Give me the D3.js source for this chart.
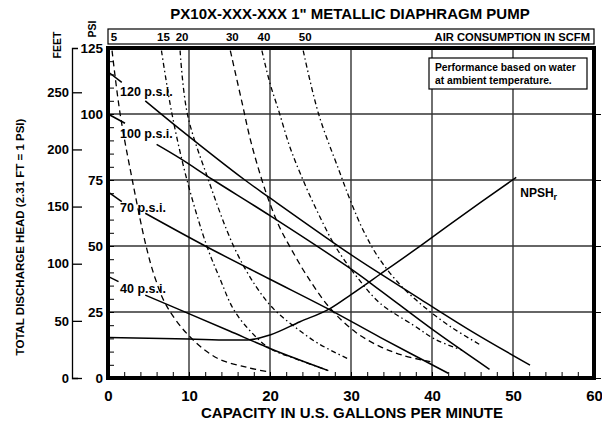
<!DOCTYPE html>
<html>
<head>
<meta charset="utf-8">
<script src="https://cdn.jsdelivr.net/npm/d3@7"></script>
<style>
  body { margin: 0; background: #fff; }
  text { font-family: "Liberation Sans", Arial, sans-serif; font-weight: bold; fill: #000; }
</style>
</head>
<body>
<script>
// ---- values ----
var capacityTicks = [0, 10, 20, 30, 40, 50, 60];
var psiTicks = [0, 25, 50, 75, 100, 125];
var feetTicks = [0, 50, 100, 150, 200, 250];
var gridX = [10, 20, 30, 40, 50];
var gridY = [25, 50, 75, 100];

// head / capacity curves [gpm, psi]; lead = short piece before the label
var psi120Lead = [[0, 116], [1.7, 112]];
var psi120 = [[4.6, 105], [8.9, 94.2], [16.9, 75], [20, 68.2], [29.9, 46.9], [33.6, 39.5], [38.6, 29.8], [45, 17.5], [52.1, 4.9]];
var psi100Lead = [[0, 100], [2.1, 96.5]];
var psi100 = [[6, 88.5], [8.9, 83.2], [13, 75], [20, 61.5], [29.9, 41.5], [33.6, 33.2], [40, 18.5], [47.1, 3.3]];
var psi70Lead = [[0, 70.5], [1.7, 66.8]];
var psi70 = [[4.6, 62.4], [12, 50], [20, 37.4], [27.4, 25.8], [33.6, 15.4], [42, 1.8]];
var psi40Lead = [[0, 38.5], [1.3, 36.5]];
var psi40 = [[4.6, 31.4], [9.9, 24.5], [15, 17.8], [20, 11.2], [23.5, 7], [27.2, 2.8]];
var psiNames = ["120 p.s.i.", "100 p.s.i.", "70 p.s.i.", "40 p.s.i."];

// air consumption curves (SCFM)
var airNames = ["5", "15", "20", "30", "40", "50"];
var air5 = [[0.5, 124], [1.5, 100], [3, 75], [4.7, 50], [5.8, 38], [7.2, 27.5], [9.9, 16.3], [13.5, 7.5], [17.2, 4], [20, 2.2]];
var air15 = [[6.6, 124], [7.9, 100], [9.75, 75], [12.2, 50], [13.9, 37], [15.5, 26], [17.5, 18], [20, 11.2], [23.5, 6.9], [27.2, 2.8]];
var air20 = [[8.9, 124], [9.8, 100], [12.4, 75], [15.5, 50], [18.2, 35], [20.5, 26], [23, 19.5], [26, 13], [29.7, 7.2]];
var air30 = [[15.1, 124], [16.5, 105], [17.6, 90], [19, 75], [20, 66], [21.2, 57], [22.5, 49.5], [24.5, 39], [27.4, 26.5], [30.5, 17.5], [33.6, 11.9], [36.5, 8.5], [39.8, 6.2]];
var air40 = [[19, 124], [20, 111.6], [21.1, 101], [22.4, 88], [23.8, 77], [25.7, 64], [28.1, 49.7], [30.8, 38], [33.6, 28.3], [37.7, 20], [40.5, 14.5], [43.7, 10.6]];
var air50 = [[24.1, 124], [26, 100], [28.5, 78.8], [29.9, 67.4], [31.5, 56], [33.4, 45.6], [36.1, 35.2], [39, 27], [42.5, 19], [46, 12.5]];

var npsh = [[0, 15.3], [5, 15.1], [10, 14.8], [15, 14.4], [17.2, 14.4], [20, 16.3], [23.7, 21.3], [27.4, 26.3], [30, 31.6], [33.6, 39.3], [38, 48.8], [42.3, 58.4], [46, 66.5], [50.4, 76]];

// ---- drawing ----
var svg = d3.select("body").append("svg").attr("width", 602).attr("height", 426);

var x = d3.scaleLinear().domain([0, 60]).range([108, 594]);
var y = d3.scaleLinear().domain([0, 125]).range([378, 48]);
var yFeet = d3.scaleLinear().domain([0, 125 * 2.31]).range([378, 48]);

var line = d3.line().x(function(d) { return x(d[0]); }).y(function(d) { return y(d[1]); })
    .curve(d3.curveCatmullRom.alpha(0.5));

// title
svg.append("text").attr("x", 350).attr("y", 19).attr("text-anchor", "middle")
    .attr("font-size", 15).text("PX10X-XXX-XXX 1\" METALLIC DIAPHRAGM PUMP");

// air consumption strip
svg.append("rect").attr("x", 108).attr("y", 29).attr("width", 486).attr("height", 15)
    .attr("fill", "none").attr("stroke", "#000").attr("stroke-width", 1.2);
var airCurves = [air5, air15, air20, air30, air40, air50];
svg.append("g").selectAll("text").data(airCurves).enter().append("text")
    .attr("x", function(d) { return x(d[0][0]) + 2; })
    .attr("y", 41).attr("text-anchor", "middle").attr("font-size", 11.5)
    .text(function(d, i) { return airNames[i]; });
svg.append("text").attr("x", 590).attr("y", 41).attr("text-anchor", "end")
    .attr("font-size", 11.2).text("AIR CONSUMPTION IN SCFM");

// grid
svg.append("g").selectAll("line").data(gridX).enter().append("line")
    .attr("x1", function(d) { return x(d); }).attr("x2", function(d) { return x(d); })
    .attr("y1", y(0)).attr("y2", y(125)).attr("stroke", "#333").attr("stroke-width", 1.4);
svg.append("g").selectAll("line").data(gridY).enter().append("line")
    .attr("y1", function(d) { return y(d); }).attr("y2", function(d) { return y(d); })
    .attr("x1", x(0)).attr("x2", x(60)).attr("stroke", "#333").attr("stroke-width", 1.4);

// note box
var note = svg.append("g");
note.append("rect").attr("x", 429).attr("y", 58).attr("width", 158).attr("height", 31)
    .attr("fill", "#fff").attr("stroke", "#000").attr("stroke-width", 1.2);
note.append("text").attr("x", 435).attr("y", 71).attr("font-size", 10.3).text("Performance based on water");
note.append("text").attr("x", 435).attr("y", 84).attr("font-size", 10.3).text("at ambient temperature.");

// air curves
var airDash = ["6,4", "5,3,1.5,3", "5,3,1.5,3", "6,4", "5,3,1.5,3", "5,3,1.5,3"];
svg.append("g").selectAll("path").data(airCurves).enter().append("path")
    .attr("d", line).attr("fill", "none").attr("stroke", "#000").attr("stroke-width", 1.3)
    .attr("stroke-dasharray", function(d, i) { return airDash[i]; });

// head curves
var leads = [psi120Lead, psi100Lead, psi70Lead, psi40Lead];
var mains = [psi120, psi100, psi70, psi40];
svg.append("g").selectAll("path").data(leads.concat(mains)).enter().append("path")
    .attr("d", line).attr("fill", "none").attr("stroke", "#000").attr("stroke-width", 1.5);
svg.append("g").selectAll("text").data(psiNames).enter().append("text")
    .attr("x", x(0) + 12)
    .attr("y", function(d, i) {
        var a = leads[i][leads[i].length - 1], b = mains[i][0];
        return (y(a[1]) + y(b[1])) / 2 + 4.5;
    })
    .attr("font-size", 12.5).text(function(d) { return d; });

// NPSHr
svg.append("path").datum(npsh).attr("d", line.curve(d3.curveMonotoneX))
    .attr("fill", "none").attr("stroke", "#000").attr("stroke-width", 1.5);
var nl = svg.append("text").attr("x", x(50.4) + 4).attr("y", y(76) + 20).attr("font-size", 12).text("NPSH");
nl.append("tspan").attr("font-size", 9).attr("dy", 3).text("r");

// minor ticks inside the frame
svg.append("g").attr("transform", "translate(" + x(0) + ",0)")
    .call(d3.axisRight(y).tickValues(d3.range(5, 125, 5)).tickSize(6).tickFormat(""))
    .call(function(g) { g.select(".domain").remove(); });
svg.append("g").attr("transform", "translate(0," + y(0) + ")")
    .call(d3.axisTop(x).tickValues(d3.range(2, 60, 2)).tickSize(6).tickFormat(""))
    .call(function(g) { g.select(".domain").remove(); });
svg.append("g").attr("transform", "translate(" + x(60) + ",0)")
    .call(d3.axisRight(y).tickValues([0, 25, 50, 75, 100]).tickSize(7).tickFormat(""))
    .call(function(g) { g.select(".domain").remove(); });

// frame
svg.append("rect").attr("x", x(0)).attr("y", y(125)).attr("width", x(60) - x(0)).attr("height", y(0) - y(125))
    .attr("fill", "none").attr("stroke", "#000").attr("stroke-width", 4);

// psi labels
svg.append("g").attr("transform", "translate(" + x(0) + ",0)")
    .call(d3.axisLeft(y).tickValues(psiTicks).tickSize(0).tickPadding(5))
    .call(function(g) { g.select(".domain").remove(); })
    .attr("font-family", null).attr("font-size", 13.5);

// feet axis
svg.append("g").attr("transform", "translate(72,0)")
    .call(d3.axisLeft(yFeet).tickValues(feetTicks).tickSize(-10).tickSizeOuter(-6).tickPadding(3))
    .attr("font-family", null).attr("font-size", 13)
    .call(function(g) { g.selectAll("line, path").attr("stroke-width", 1.3); });

// capacity labels
svg.append("g").attr("transform", "translate(0," + y(0) + ")")
    .call(d3.axisBottom(x).tickValues(capacityTicks).tickSize(0).tickPadding(12))
    .call(function(g) { g.select(".domain").remove(); })
    .attr("font-family", null).attr("font-size", 15);

// axis titles
svg.append("text").attr("x", 352).attr("y", 418).attr("text-anchor", "middle")
    .attr("font-size", 15).text("CAPACITY IN U.S. GALLONS PER MINUTE");
svg.append("text").attr("transform", "translate(24,237) rotate(-90)").attr("text-anchor", "middle")
    .attr("font-size", 11.5).text("TOTAL DISCHARGE HEAD (2.31 FT = 1 PSI)");
svg.append("text").attr("transform", "translate(96,29) rotate(-90)").attr("text-anchor", "middle")
    .attr("font-size", 10.5).text("PSI");
svg.append("text").attr("transform", "translate(61,45) rotate(-90)").attr("text-anchor", "middle")
    .attr("font-size", 10.5).text("FEET");
</script>
</body>
</html>
